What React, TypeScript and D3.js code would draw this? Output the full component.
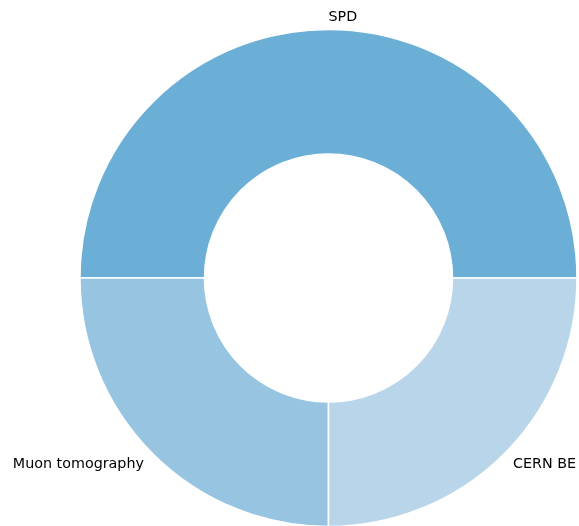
import React, { useEffect, useRef } from 'react';
import * as d3 from 'd3';

const labels = ['SPD', 'Muon tomography', 'CERN BE'];
const values = [50, 25, 25];
const colors = ['#6baed6', '#97c4e0', '#b9d5ea'];

const DonutChart = () => {
  const ref = useRef<SVGSVGElement>(null);

  useEffect(() => {
    const svg = d3.select(ref.current);
    svg.selectAll('*').remove();

    const width = 579, height = 526;
    const cx = 328.5, cy = 278;
    const outer = 248.5, inner = 124;
    const labelR = 261;

    svg.attr('width', width).attr('height', height);

    // counter-clockwise from 3 o'clock, like matplotlib's pie
    const pie = d3.pie<number>()
      .sort(null)
      .startAngle(Math.PI / 2)
      .endAngle(Math.PI / 2 - Math.PI * 2);

    const arc = d3.arc<d3.PieArcDatum<number>>()
      .innerRadius(inner)
      .outerRadius(outer);

    const g = svg.append('g').attr('transform', `translate(${cx}, ${cy})`);
    const arcs = pie(values);

    g.selectAll('path')
      .data(arcs)
      .enter()
      .append('path')
      .attr('d', arc)
      .attr('fill', (d, i) => colors[i])
      .attr('stroke', '#fff')
      .attr('stroke-width', 1.5);

    arcs.forEach((d, i) => {
      const mid = (d.startAngle + d.endAngle) / 2;
      const x = Math.sin(mid) * labelR;
      const y = -Math.cos(mid) * labelR;
      g.append('text')
        .attr('x', x)
        .attr('y', i === 0 ? y - 1 : y)
        .attr('dy', '0.35em')
        .attr('text-anchor', x >= -0.001 ? 'start' : 'end')
        .attr('font-family', 'DejaVu Sans')
        .attr('font-size', '14.3px')
        .attr('fill', '#000')
        .text(labels[i]);
    });
  }, []);

  return <svg ref={ref} style={{ position: 'fixed', left: 0, top: 0 }}></svg>;
};

export default function App() {
  return <DonutChart />;
}
